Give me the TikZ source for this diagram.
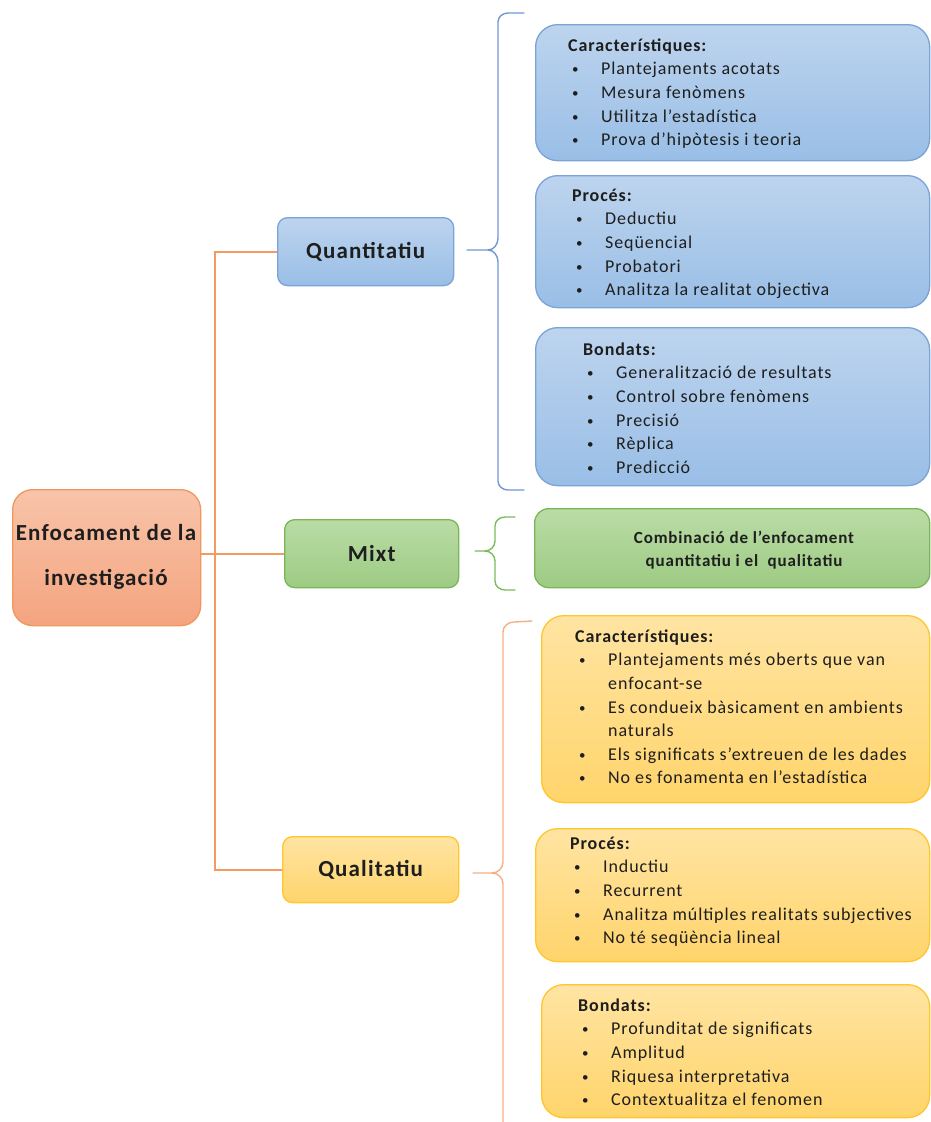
\documentclass[tikz,border=0pt]{standalone}
\usepackage{fontspec}
\setmainfont{Carlito}[LetterSpace=5]
\definecolor{bluetop}{HTML}{BDD4EE}
\definecolor{bluebot}{HTML}{99BEE6}
\definecolor{blueline}{HTML}{7BA3D8}
\definecolor{bluebrace}{HTML}{7296D5}
\definecolor{greentop}{HTML}{BADCA6}
\definecolor{greenbot}{HTML}{9DCB83}
\definecolor{greenline}{HTML}{7AB556}
\definecolor{greenbrace}{HTML}{7DBA5C}
\definecolor{ambertop}{HTML}{FFE4A2}
\definecolor{amberbot}{HTML}{FFD46B}
\definecolor{amberline}{HTML}{FFC62E}
\definecolor{roottop}{HTML}{F8C4A9}
\definecolor{rootbot}{HTML}{F4A47F}
\definecolor{rootline}{HTML}{F0975E}
\definecolor{trunkline}{HTML}{F29A60}
\definecolor{orangebrace}{HTML}{F4AF88}
\definecolor{ink}{HTML}{1E1E1E}
% bullet line and continuation line inside the detail boxes
\newcommand{\bitem}[1]{\makebox[33pt][l]{\hspace{4pt}\raisebox{1pt}{\fontsize{13}{13}\selectfont •}}#1}
\newcommand{\bcont}[1]{\hspace*{33pt}#1}
\newcommand{\firstline}{\rule{0pt}{14pt}}
\begin{document}
\begin{tikzpicture}[x=1pt,y=-1pt,
  every node/.style={text=ink},
  card/.style={anchor=north west, inner sep=0pt, line width=1.3pt},
  bluecard/.style={card, rounded corners=22pt, draw=blueline, top color=bluetop, bottom color=bluebot},
  greencard/.style={card, rounded corners=14pt, draw=greenline, top color=greentop, bottom color=greenbot},
  ambercard/.style={card, rounded corners=22pt, draw=amberline, top color=ambertop, bottom color=amberbot},
  topic/.style={card, rounded corners=10pt},
  topiclabel/.style={font=\fontsize{23}{27}\selectfont\bfseries},
  itemtext/.style={anchor=north west, inner sep=0pt, align=left, font=\fontsize{18}{23.6}\selectfont},
  trunk/.style={draw=trunkline, line width=1.9pt},
  bracestyle/.style={line width=1.4pt, line cap=round}
]
\useasboundingbox (0,0) rectangle (931,1122);

% root node
\node[card, rounded corners=20pt, draw=rootline, top color=roottop, bottom color=rootbot,
      minimum width=188pt, minimum height=136pt] (root) at (12,489) {};
\node[align=center, font=\fontsize{23}{45}\selectfont\bfseries] (roottext) at (106,557) {Enfocament de la\\investigació};

% three approaches
\node[topic, draw=blueline, top color=bluetop, bottom color=bluebot,
      minimum width=176pt, minimum height=68pt] (quant) at (277,217) {};
\node[topiclabel] (quanttext) at (quant.center) {Quantitatiu};
\node[topic, draw=greenline, top color=greentop, bottom color=greenbot,
      minimum width=174pt, minimum height=68pt] (mixt) at (284,519) {};
\node[topiclabel] (mixttext) at (mixt.center) {Mixt};
\node[topic, draw=amberline, top color=ambertop, bottom color=amberbot,
      minimum width=176pt, minimum height=66pt] (qual) at (282,836) {};
\node[topiclabel] (qualtext) at (qual.center) {Qualitatiu};

% connectors from the root
\draw[trunk] (root.east |- mixt.west) -- (mixt.west);
\draw[trunk] (quant.west) -- ++(-62,0) |- (qual.west);

% quantitative details
\node[bluecard, minimum width=394pt, minimum height=136pt] (qcar) at (535,24) {};
\node[itemtext] (qcart) at (568,37) {\firstline\textbf{Característiques:}\\
  \bitem{Plantejaments acotats}\\
  \bitem{Mesura fenòmens}\\
  \bitem{Utilitza l’estadística}\\
  \bitem{Prova d’hipòtesis i teoria}};
\node[bluecard, minimum width=394pt, minimum height=132pt] (qproc) at (535,175) {};
\node[itemtext] (qproct) at (572,187) {\firstline\textbf{Procés:}\\
  \bitem{Deductiu}\\
  \bitem{Seqüencial}\\
  \bitem{Probatori}\\
  \bitem{Analitza la realitat objectiva}};
\node[bluecard, minimum width=394pt, minimum height=158pt] (qbon) at (535,327) {};
\node[itemtext] (qbont) at (583,341) {\firstline\textbf{Bondats:}\\
  \bitem{Generalització de resultats}\\
  \bitem{Control sobre fenòmens}\\
  \bitem{Precisió}\\
  \bitem{Rèplica}\\
  \bitem{Predicció}};

% mixed approach detail
\node[greencard, minimum width=395pt, minimum height=79pt] (mdet) at (534,508) {};
\node[align=center, font=\fontsize{17}{23.5}\selectfont\bfseries] (mdett) at (744,550)
  {Combinació de l’enfocament\\quantitatiu i el\ \ qualitatiu};

% qualitative details
\node[ambercard, minimum width=388pt, minimum height=187pt] (lcar) at (541,615) {};
\node[itemtext] (lcart) at (575,628) {\firstline\textbf{Característiques:}\\
  \bitem{Plantejaments més oberts que van}\\
  \bcont{enfocant-se}\\
  \bitem{Es condueix bàsicament en ambients}\\
  \bcont{naturals}\\
  \bitem{Els significats s’extreuen de les dades}\\
  \bitem{No es fonamenta en l’estadística}};
\node[ambercard, minimum width=394pt, minimum height=133pt] (lproc) at (535,828) {};
\node[itemtext] (lproct) at (570,835) {\firstline\textbf{Procés:}\\
  \bitem{Inductiu}\\
  \bitem{Recurrent}\\
  \bitem{Analitza múltiples realitats subjectives}\\
  \bitem{No té seqüència lineal}};
\node[ambercard, minimum width=388pt, minimum height=133pt] (lbon) at (541,984) {};
\node[itemtext] (lbont) at (578,997) {\firstline\textbf{Bondats:}\\
  \bitem{Profunditat de significats}\\
  \bitem{Amplitud}\\
  \bitem{Riquesa interpretativa}\\
  \bitem{Contextualitza el fenomen}};

% braces
\coordinate (qtip) at (467,250);
\coordinate (qtop) at (524,13);
\coordinate (qbot) at (524,490);
\draw[bracestyle, draw=bluebrace] (qtop) -- (508,13) to[out=180,in=90] (498,22) -- (498,238)
  to[out=-90,in=0] (488,250) -- (qtip);
\draw[bracestyle, draw=bluebrace] (488,250) to[out=0,in=90] (498,262) -- (498,481)
  to[out=-90,in=180] (508,490) -- (qbot);

\coordinate (mtip) at (475,551);
\coordinate (mtop) at (515,517);
\coordinate (mbot) at (515,590);
\draw[bracestyle, draw=greenbrace] (mtop) -- (505,517) to[out=180,in=90] (495,526) -- (495,541)
  to[out=-90,in=0] (485,551) -- (mtip);
\draw[bracestyle, draw=greenbrace] (485,551) to[out=0,in=90] (495,561) -- (495,581)
  to[out=-90,in=180] (505,590) -- (mbot);

\coordinate (ltip) at (473,873);
\coordinate (ltop) at (532,621);
\coordinate (lbot) at (503,1124);
\draw[bracestyle, draw=orangebrace] (ltop) -- (514,622) to[out=180,in=90] (503,632) -- (503,862)
  to[out=-90,in=0] (492,873) -- (ltip);
\draw[bracestyle, draw=orangebrace] (492,873) to[out=0,in=90] (503,884) -- (lbot);
\end{tikzpicture}
\end{document}
